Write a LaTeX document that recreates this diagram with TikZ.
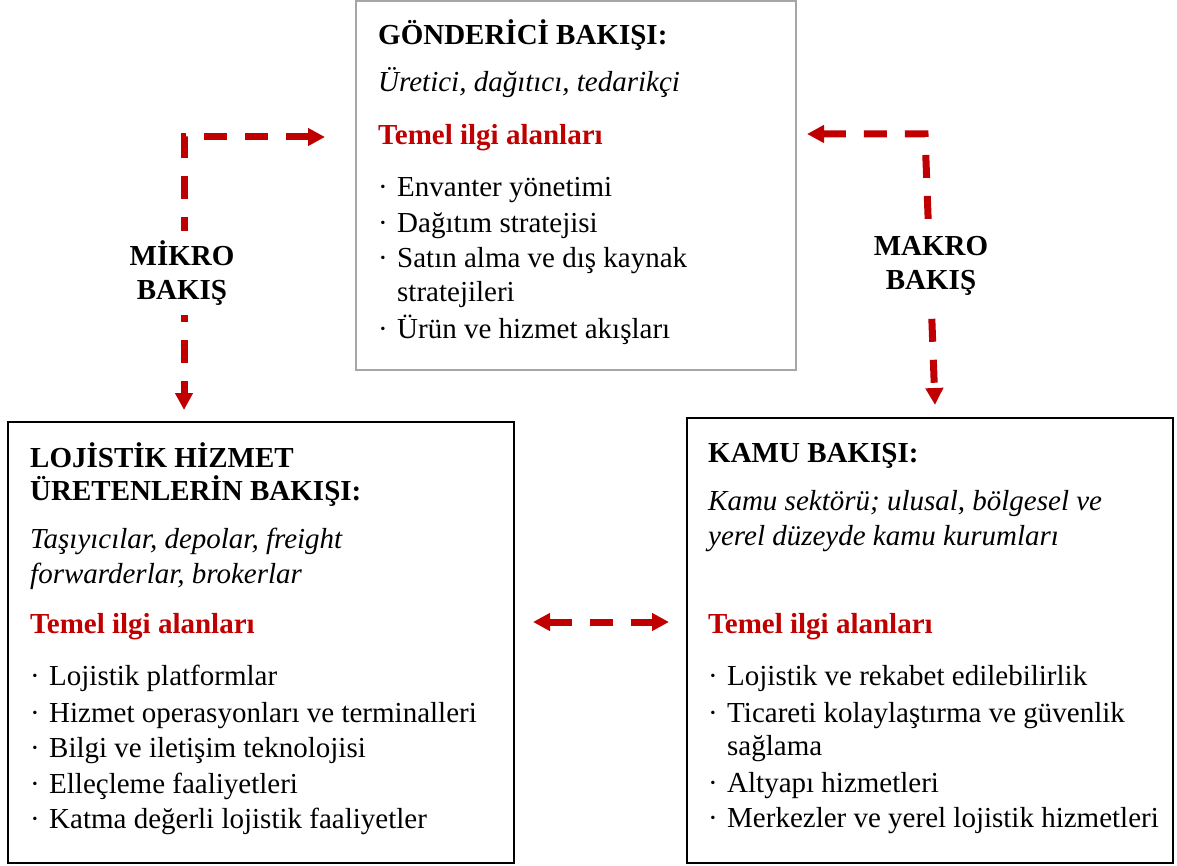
\documentclass[tikz,border=0pt]{standalone}
\usepackage{fontspec}
\setmainfont{Liberation Serif}
\usetikzlibrary{arrows.meta}
\definecolor{dred}{RGB}{192,0,0}
\definecolor{bgray}{RGB}{166,166,166}
\newcommand{\bul}{\makebox[19pt][l]{·}}
\begin{document}
\begin{tikzpicture}[x=1pt,y=-1pt,
 txt/.style={anchor=base west,inner sep=0pt,font=\fontsize{29}{35}\selectfont},
 hd/.style={anchor=base west,inner sep=0pt,font=\fontsize{29}{35}\selectfont\bfseries},
 sub/.style={anchor=base west,inner sep=0pt,font=\fontsize{29}{35}\selectfont\itshape},
 key/.style={hd,text=dred},
 gbox/.style={draw=bgray,line width=2.5pt,inner sep=0pt},
 bbox/.style={draw=black,line width=2.5pt,inner sep=0pt},
 link/.style={draw=dred,line width=7pt,dash pattern=on 23pt off 18pt,
   arrows={Triangle[length=17pt,width=17pt]-Triangle[length=17pt,width=17pt]}},
 lbl/.style={fill=white,align=center,inner xsep=4pt,inner ysep=10pt,
   font=\fontsize{29}{34}\selectfont\bfseries}]
\useasboundingbox (0,0) rectangle (1177,866);

% boxes
\node[gbox,minimum width=440pt,minimum height=369pt] (top) at (576,185.5) {};
\node[bbox,minimum width=506pt,minimum height=441pt] (left) at (261,642.5) {};
\node[bbox,minimum width=486pt,minimum height=445pt] (right) at (930,640.5) {};

% top box text
\node[hd] (t1) at (378,45) {GÖNDERİCİ BAKIŞI:};
\node[sub] (t2) at (378,92) {Üretici, dağıtıcı, tedarikçi};
\node[key] (t3) at (378,145) {Temel ilgi alanları};
\node[txt] (t4) at (378,197) {\bul Envanter yönetimi};
\node[txt] (t5) at (378,233) {\bul Dağıtım stratejisi};
\node[txt] (t6) at (378,268) {\bul Satın alma ve dış kaynak};
\node[txt] (t7) at (397,302) {stratejileri};
\node[txt] (t8) at (378,338) {\bul Ürün ve hizmet akışları};

% left box text
\node[hd] (l1) at (30,467) {LOJİSTİK HİZMET};
\node[hd] (l2) at (30,500) {ÜRETENLERİN BAKIŞI:};
\node[sub] (l3) at (30,548) {Taşıyıcılar, depolar, freight};
\node[sub] (l4) at (30,583) {forwarderlar, brokerlar};
\node[key] (l5) at (30,633) {Temel ilgi alanları};
\node[txt] (l6) at (30,685) {\bul Lojistik platformlar};
\node[txt] (l7) at (30,722) {\bul Hizmet operasyonları ve terminalleri};
\node[txt] (l8) at (30,757) {\bul Bilgi ve iletişim teknolojisi};
\node[txt] (l9) at (30,793) {\bul Elleçleme faaliyetleri};
\node[txt] (l10) at (30,828) {\bul Katma değerli lojistik faaliyetler};

% right box text
\node[hd] (r1) at (708,462) {KAMU BAKIŞI:};
\node[sub] (r2) at (708,510) {Kamu sektörü; ulusal, bölgesel ve};
\node[sub] (r3) at (708,545) {yerel düzeyde kamu kurumları};
\node[key] (r4) at (708,633) {Temel ilgi alanları};
\node[txt] (r5) at (708,685) {\bul Lojistik ve rekabet edilebilirlik};
\node[txt] (r6) at (708,722) {\bul Ticareti kolaylaştırma ve güvenlik};
\node[txt] (r7) at (727,755) {sağlama};
\node[txt] (r8) at (708,792) {\bul Altyapı hizmetleri};
\node[txt] (r9) at (708,827) {\bul Merkezler ve yerel lojistik hizmetleri};

% connector end points
\coordinate (m1) at (325,137);
\coordinate (mc) at (184,137);
\coordinate (m2) at (184,410);
\coordinate (k1) at (807,134);
\coordinate (kc) at (925,134);
\coordinate (k2) at (935,405);
\coordinate (h1) at (533,622);
\coordinate (h2) at (669,622);

\draw[link] (m1) -- (mc) -- (m2);
\draw[link] (k1) -- (kc) -- (k2);
\draw[link] (h1) -- (h2);

% labels
\node[lbl] (mikro) at (182,273) {MİKRO\\BAKIŞ};
\node[lbl] (makro) at (931,266) {MAKRO\\BAKIŞ};
\end{tikzpicture}
\end{document}
